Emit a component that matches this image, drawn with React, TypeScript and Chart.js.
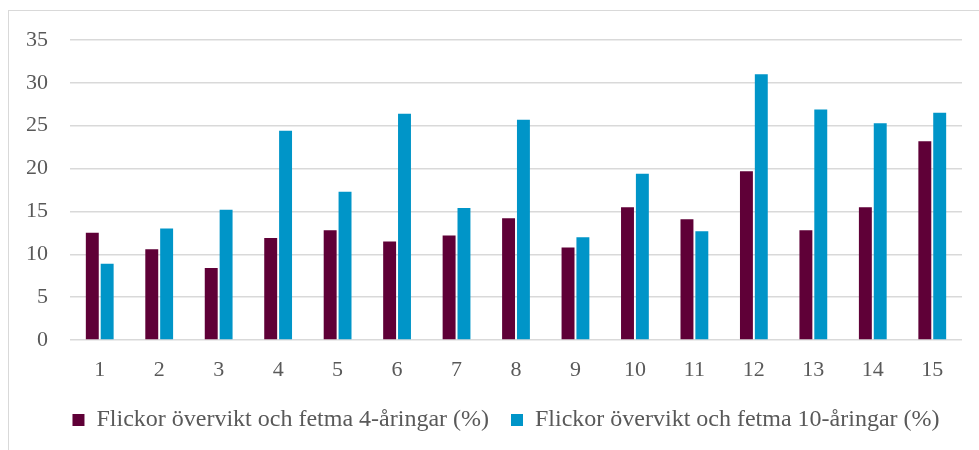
import React, { useEffect, useRef } from "react";
import { Chart, registerables } from "chart.js";

Chart.register(...registerables);

const categories = ["1", "2", "3", "4", "5", "6", "7", "8", "9", "10", "11", "12", "13", "14", "15"];
const series4 = [12.5, 10.6, 8.4, 11.9, 12.8, 11.5, 12.2, 14.2, 10.8, 15.5, 14.1, 19.7, 12.8, 15.5, 23.2];
const series10 = [8.9, 13.0, 15.2, 24.4, 17.3, 26.4, 15.4, 25.7, 12.0, 19.4, 12.7, 31.0, 26.9, 25.3, 26.5];
const label4 = "Flickor övervikt och fetma 4-åringar (%)";
const label10 = "Flickor övervikt och fetma 10-åringar (%)";

const FONT = "'Liberation Serif', 'Times New Roman', serif";

const legendShift = {
  id: "legendShift",
  afterLayout(chart: any) {
    const lg = chart.legend;
    if (lg) {
      lg.left += 23;
      lg.right += 23;
    }
  },
};

export default function App() {
  const ref = useRef<HTMLCanvasElement | null>(null);

  useEffect(() => {
    if (!ref.current) return;
    const chart = new Chart(ref.current, {
      type: "bar",
      data: {
        labels: categories,
        datasets: [
          {
            label: label4,
            data: series4,
            backgroundColor: "#5f0037",
            categoryPercentage: 0.5,
            barPercentage: 0.87,
          },
          {
            label: label10,
            data: series10,
            backgroundColor: "#0095c8",
            categoryPercentage: 0.5,
            barPercentage: 0.87,
          },
        ],
      },
      plugins: [legendShift],
      options: {
        animation: false,
        responsive: false,
        maintainAspectRatio: false,
        layout: { padding: { left: 4, right: 17, top: 40, bottom: 8 } },
        plugins: {
          tooltip: { enabled: false },
          legend: {
            position: "bottom",
            labels: {
              boxWidth: 12,
              boxHeight: 12,
              padding: 22,
              color: "#595959",
              font: { family: FONT, size: 24 },
            },
          },
        },
        scales: {
          x: {
            grid: { display: false, drawTicks: false },
            border: { display: false },
            afterFit: (scale: any) => {
              scale.height = 46;
            },
            ticks: { color: "#595959", font: { family: FONT, size: 22 }, padding: 17 },
          },
          y: {
            min: 0,
            max: 35,
            ticks: { stepSize: 5, color: "#595959", font: { family: FONT, size: 22 }, padding: 22 },
            grid: { color: "#d9d9d9", lineWidth: 1.5, drawTicks: false },
            border: { display: false },
          },
        },
      },
    });
    return () => chart.destroy();
  }, []);

  return (
    <div style={{ position: "fixed", left: 0, top: 0, width: 979, height: 450, background: "#fff", overflow: "hidden" }}>
      <div
        style={{
          position: "absolute",
          left: 8,
          top: 10,
          width: 971,
          height: 440,
          boxSizing: "border-box",
          borderLeft: "1px solid #d9d9d9",
          borderTop: "1px solid #d9d9d9",
        }}
      />
      <canvas ref={ref} width={979} height={450} style={{ position: "absolute", left: 0, top: 0 }} />
    </div>
  );
}
